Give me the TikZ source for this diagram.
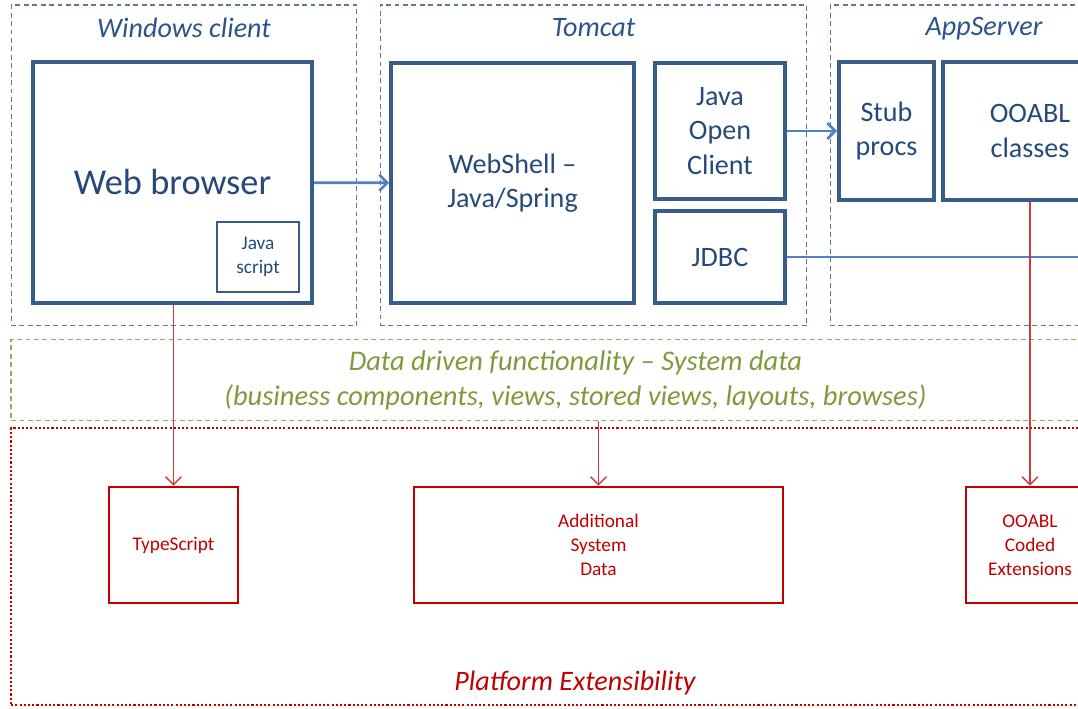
\documentclass[tikz,border=0pt]{standalone}
\usepackage{fontspec}
\setmainfont{Carlito}
\usepackage{tikz}
\usetikzlibrary{arrows.meta}
\definecolor{boxblue}{HTML}{385D8A}
\definecolor{textblue}{HTML}{254A7A}
\definecolor{titleblue}{HTML}{2B548A}
\definecolor{frameblue}{HTML}{5878A2}
\definecolor{linkblue}{HTML}{4F81BD}
\definecolor{datagreen}{HTML}{8EAA5A}
\definecolor{datatext}{HTML}{7F9A3A}
\definecolor{extred}{HTML}{C00000}
\definecolor{linkred}{HTML}{D03A3A}

\begin{document}
\begin{tikzpicture}[x=0.02cm, y=-0.02cm, >={Straight Barb[length=4.5pt,width=9pt]},
  every node/.style={font=\fontsize{16}{19.5}\selectfont, text=textblue, align=center},
  comp/.style={draw=boxblue, line width=2.2pt, inner sep=2pt},
  small/.style={draw=boxblue, line width=1.3pt, font=\fontsize{11}{14}\selectfont},
  frame/.style={draw=frameblue, line width=0.6pt, dash pattern=on 2.8pt off 2pt},
  title/.style={font=\fontsize{16}{19.5}\selectfont\itshape, text=titleblue},
  ext/.style={draw=extred, line width=1.6pt, text=extred, font=\fontsize{11}{13.6}\selectfont, minimum height=2.32cm},
  bluelink/.style={linkblue, line width=1.5pt},
  redlink/.style={linkred, line width=0.8pt}]
\useasboundingbox (0,0) rectangle (1078,709);
\clip (0,0) rectangle (1078,709);
% tiers
\node[frame, minimum width=6.92cm, minimum height=6.42cm] (winclient) at (184,165.5) {};
\node[frame, minimum width=8.54cm, minimum height=6.42cm] (tomcat) at (593.5,165.5) {};
\node[frame, minimum width=6.16cm, minimum height=6.42cm] (appserver) at (984,165.5) {};
\node[title] (wctitle) at (184,28) {Windows client};
\node[title] (tctitle) at (593.5,28) {Tomcat};
\node[title] (astitle) at (984,29) {AppServer};
% components
\node[comp, minimum width=5.58cm, minimum height=4.82cm, font=\fontsize{20.7}{24}\selectfont] (browser) at (172.5,182.5) {Web browser};
\node[small, minimum width=1.64cm, minimum height=1.4cm] (jscript) at (258,257) {Java\\script};
\node[comp, minimum width=4.86cm, minimum height=4.8cm] (webshell) at (512.5,183) {WebShell --\\Java/Spring};
\node[comp, minimum width=2.6cm, minimum height=2.72cm] (javaoc) at (720,131) {Java\\Open\\Client};
\node[comp, minimum width=2.6cm, minimum height=1.84cm] (jdbc) at (720,257) {JDBC};
\node[comp, minimum width=1.9cm, minimum height=2.76cm] (stub) at (886.5,131) {Stub\\procs};
\node[comp, minimum width=3.48cm, minimum height=2.76cm] (ooabl) at (1030,131) {OOABL\\classes};
\coordinate (dbend) at (1100,257);
% data layer
\node[draw=datagreen, line width=0.7pt, dash pattern=on 2.8pt off 2pt, minimum width=22.58cm, minimum height=1.62cm,
  font=\fontsize{16.2}{20}\selectfont\itshape, text=datatext] (datalayer) at (575.5,380)
  {Data driven functionality -- System data\\(business components, views, stored views, layouts, browses)};
% extensibility
\node[draw=extred, line width=1.5pt, dash pattern=on 1.2pt off 1.2pt, minimum width=22.58cm, minimum height=5.54cm] (platform) at (575.5,566.5) {};
\node[font=\fontsize{16}{19.5}\selectfont\itshape, text=extred] (pftitle) at (575,683) {Platform Extensibility};
\node[ext, minimum width=2.58cm] (typescript) at (173.5,545) {TypeScript};
\node[ext, minimum width=7.38cm] (addl) at (598.5,545) {Additional\\System\\Data};
\node[ext, minimum width=2.56cm] (ooablext) at (1030,545) {OOABL\\Coded\\Extensions};
% links
\draw[bluelink, ->] (browser) -- (webshell);
\draw[bluelink, ->] (javaoc) -- (stub);
\draw[bluelink] (jdbc) -- (dbend);
\draw[redlink, ->] (browser.south -| typescript.north) -- (typescript);
\draw[redlink, ->] (datalayer.south -| addl.north) -- (addl);
\draw[redlink, ->] (ooabl) -- (ooablext);
\end{tikzpicture}
\end{document}
